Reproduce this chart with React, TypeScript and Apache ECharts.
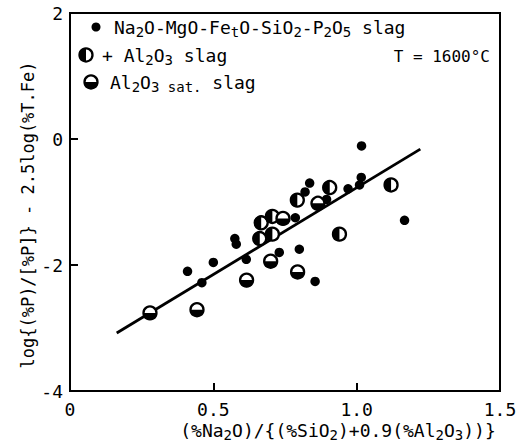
import React, { useEffect, useRef } from "react";
import * as echarts from "echarts";

// Na2O-MgO-FetO-SiO2-P2O5 slag (filled dots)
const baseX = [0.41, 0.46, 0.50, 0.575, 0.58, 0.615, 0.73, 0.80, 0.855, 0.786, 0.82, 0.836, 0.895, 0.97, 1.01, 1.016, 1.017, 1.167];
const baseY = [-2.10, -2.28, -1.96, -1.58, -1.67, -1.91, -1.80, -1.75, -2.26, -1.25, -0.84, -0.70, -0.96, -0.79, -0.73, -0.61, -0.11, -1.29];
// +Al2O3 slag (left half filled)
const alX = [0.667, 0.706, 0.662, 0.706, 0.793, 0.906, 1.12, 0.94];
const alY = [-1.33, -1.23, -1.58, -1.51, -0.97, -0.77, -0.73, -1.51];
// Al2O3 saturated slag (bottom half filled)
const satX = [0.279, 0.443, 0.616, 0.70, 0.794, 0.743, 0.865];
const satY = [-2.76, -2.71, -2.24, -1.94, -2.11, -1.26, -1.02];
// regression line
const fitX = [0.163, 1.222];
const fitY = [-3.08, -0.16];

const xTickValues = [0, 0.5, 1.0, 1.5];
const yTickValues = [-4, -2, 0, 2];

const FONT = "DejaVu Sans Mono";

const legendRich = {
  a: { fontFamily: FONT, fontSize: 18, lineHeight: 24, color: "#000", verticalAlign: "middle" },
  s: { fontFamily: FONT, fontSize: 14, lineHeight: 14, color: "#000", verticalAlign: "bottom" },
};
const titleRich = legendRich;

function halfShape(cx: number, cy: number, kind: "left" | "bottom") {
  const r = 6.5;
  const start = kind === "left" ? Math.PI / 2 : 0;
  const end = kind === "left" ? (Math.PI * 3) / 2 : Math.PI;
  return {
    type: "group",
    children: [
      { type: "circle", shape: { cx, cy, r }, style: { fill: "#fff", stroke: "#000", lineWidth: 2.3 } },
      { type: "sector", shape: { cx, cy, r0: 0, r: r + 0.6, startAngle: start, endAngle: end, clockwise: true }, style: { fill: "#000" } },
    ],
  };
}

function makeHalfRender(kind: "left" | "bottom") {
  return (params: any, api: any) => {
    const p = api.coord([api.value(0), api.value(1)]);
    return halfShape(p[0], p[1], kind);
  };
}

export default function App() {
  const ref = useRef<HTMLDivElement>(null);
  useEffect(() => {
    if (!ref.current) return;
    const chart = echarts.init(ref.current, null, { renderer: "svg" });
    const option: any = {
      animation: false,
      backgroundColor: "#fff",
      grid: { left: 70, right: 32, top: 13, bottom: 53, show: true, borderColor: "#000", borderWidth: 2, containLabel: false },
      xAxis: {
        type: "value",
        min: 0,
        max: 1.5,
        interval: 0.5,
        splitLine: { show: false },
        axisLine: { onZero: false, lineStyle: { color: "#000", width: 2 } },
        axisTick: { inside: true, length: 8, lineStyle: { color: "#000", width: 2 } },
        axisLabel: {
          color: "#000",
          fontFamily: FONT,
          fontSize: 18,
          margin: 9,
          formatter: (v: number) => (xTickValues.includes(v) ? (v === 0 ? "0" : v.toFixed(1)) : ""),
        },
      },
      yAxis: {
        type: "value",
        min: -4,
        max: 2,
        interval: 2,
        splitLine: { show: false },
        axisLine: { onZero: false, lineStyle: { color: "#000", width: 2 } },
        axisTick: { inside: true, length: 8, lineStyle: { color: "#000", width: 2 } },
        axisLabel: {
          color: "#000",
          fontFamily: FONT,
          fontSize: 18,
          margin: 7,
          formatter: (v: number) => (yTickValues.includes(v) ? String(v) : ""),
        },
      },
      series: [
        {
          type: "line",
          data: fitX.map((x, i) => [x, fitY[i]]),
          symbol: "none",
          lineStyle: { color: "#000", width: 2.8 },
          z: 1,
        },
        {
          type: "scatter",
          data: baseX.map((x, i) => [x, baseY[i]]),
          symbol: "circle",
          symbolSize: 9.5,
          itemStyle: { color: "#000", opacity: 1 },
          z: 3,
        },
        {
          type: "custom",
          coordinateSystem: "cartesian2d",
          data: alX.map((x, i) => [x, alY[i]]),
          renderItem: makeHalfRender("left"),
          z: 4,
        },
        {
          type: "custom",
          coordinateSystem: "cartesian2d",
          data: satX.map((x, i) => [x, satY[i]]),
          renderItem: makeHalfRender("bottom"),
          z: 4,
        },
      ],
      graphic: [
        { type: "circle", shape: { cx: 96, cy: 27, r: 4.5 }, style: { fill: "#000" } },
        halfShape(86, 55, "left"),
        halfShape(91, 82, "bottom"),
        {
          type: "text",
          x: 114,
          y: 27,
          style: {
            text: "{a|Na}{s|2}{a|O-MgO-Fe}{s|t}{a|O-SiO}{s|2}{a|-P}{s|2}{a|O}{s|5}{a| slag}",
            rich: legendRich,
            verticalAlign: "middle",
          },
        },
        {
          type: "text",
          x: 102,
          y: 55,
          style: {
            text: "{a|+ Al}{s|2}{a|O}{s|3}{a| slag}",
            rich: legendRich,
            verticalAlign: "middle",
          },
        },
        {
          type: "text",
          x: 110,
          y: 82,
          style: {
            text: "{a|Al}{s|2}{a|O}{s|3 sat.}{a| slag}",
            rich: legendRich,
            verticalAlign: "middle",
          },
        },
        {
          type: "text",
          x: 490,
          y: 56,
          style: {
            text: "T = 1600°C",
            fontFamily: FONT,
            fontSize: 16,
            fill: "#000",
            align: "right",
            verticalAlign: "middle",
          },
        },
        {
          type: "text",
          x: 338,
          y: 430,
          style: {
            text: "{a|(%Na}{s|2}{a|O)/{(%SiO}{s|2}{a|)+0.9(%Al}{s|2}{a|O}{s|3}{a|))}}",
            rich: titleRich,
            fontFamily: FONT,
            fontSize: 18,
            lineHeight: 24,
            fill: "#000",
            align: "center",
            verticalAlign: "middle",
          },
        },
        {
          type: "text",
          x: 28,
          y: 215,
          rotation: Math.PI / 2,
          style: {
            text: "log{(%P)/[%P]} - 2.5log(%T.Fe)",
            fontFamily: FONT,
            fontSize: 17,
            fill: "#000",
            align: "center",
            verticalAlign: "middle",
          },
        },
      ],
    };
    chart.setOption(option);
    return () => chart.dispose();
  }, []);
  return <div ref={ref} style={{ position: "fixed", left: 0, top: 0, width: 532, height: 444 }} />;
}
